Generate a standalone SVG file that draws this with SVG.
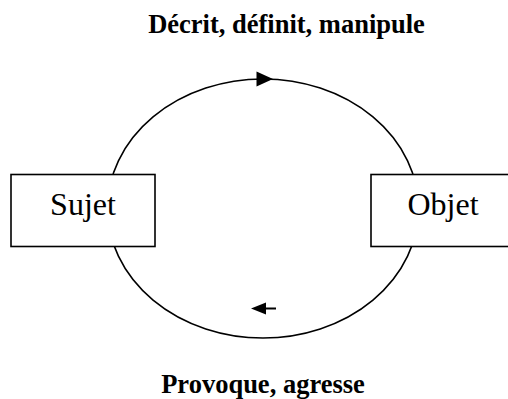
<svg xmlns="http://www.w3.org/2000/svg" width="508" height="399" viewBox="0 0 508 399">
<style>
.ln{fill:none;stroke:#000;stroke-width:1.6}
.box{fill:#fff;stroke:#000;stroke-width:1.6}
.lbl{font-family:"Liberation Serif","Times New Roman",serif;font-size:32px;fill:#000;text-anchor:middle}
.cap{font-family:"Liberation Serif","Times New Roman",serif;font-size:26.5px;font-weight:bold;fill:#000;text-anchor:middle}
.ah{fill:#000;stroke:none}
</style>
<rect width="508" height="399" fill="#fff"/>
<g id="connectors">
<ellipse class="ln" cx="263" cy="208.5" rx="155.5" ry="129.5"/>
<polygon class="ah" points="256.5,71.5 273,79 256.5,86.5"/>
<line class="ln" x1="264" y1="308.5" x2="276" y2="308.5" style="stroke-width:2"/>
<polygon class="ah" points="266,302.5 251,308.5 266,314.5"/>
</g>
<g id="sujet">
<rect class="box" x="11" y="174.5" width="144" height="72"/>
<text class="lbl" x="83" y="215">Sujet</text>
</g>
<g id="objet">
<rect class="box" x="371" y="174.5" width="144" height="72"/>
<text class="lbl" x="443" y="215">Objet</text>
</g>
<g id="labels">
<text class="cap" x="286.5" y="33">Décrit, définit, manipule</text>
<text class="cap" x="263" y="393">Provoque, agresse</text>
</g>
</svg>
